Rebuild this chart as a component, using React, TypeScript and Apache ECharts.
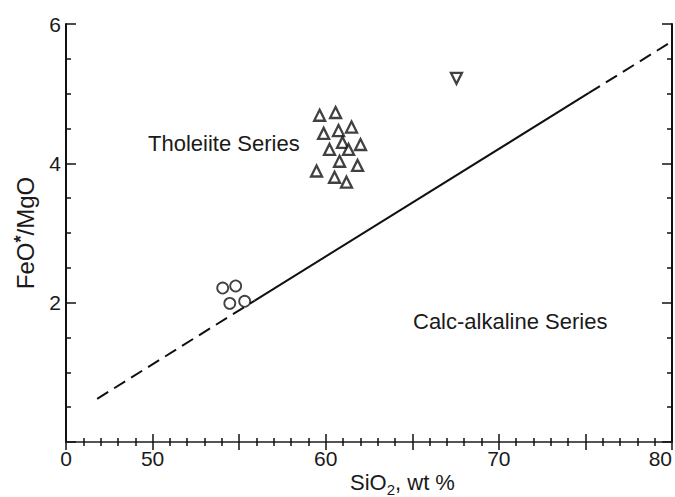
import React, { useEffect, useRef } from "react";
import * as echarts from "echarts";

const tholeiitePoints: [number, number][] = [
  [59.65, 4.69], [60.57, 4.73], [59.88, 4.43], [60.74, 4.47], [61.49, 4.52],
  [60.22, 4.2], [60.97, 4.3], [61.32, 4.2], [62.01, 4.27], [60.8, 4.03],
  [61.84, 3.97], [59.47, 3.89], [60.51, 3.8], [61.2, 3.73],
];
const invertedPoints: [number, number][] = [[67.55, 5.22]];
const circlePoints: [number, number][] = [
  [54.05, 2.21], [54.8, 2.24], [54.46, 1.99], [55.32, 2.02],
];
const dashedLow: [number, number][] = [[46.8, 0.62], [55.9, 2.03]];
const solidMid: [number, number][] = [[55.9, 2.03], [75.2, 5.01]];
const dashedHigh: [number, number][] = [[75.2, 5.01], [79.8, 5.72]];

const xTickLabels: Record<number, string> = { 45: "0", 50: "50", 60: "60", 70: "70", 80: "80" };
const yTickLabels: Record<number, string> = { 2: "2", 4: "4", 6: "6" };

const FONT = "'Liberation Sans', Arial, sans-serif";
const INK = "#111";

export default function App() {
  const ref = useRef<HTMLDivElement>(null);
  useEffect(() => {
    if (!ref.current) return;
    const chart = echarts.init(ref.current, undefined, { renderer: "svg" });
    const tickStyle = { color: INK, width: 1.5 };
    const xBase = {
      type: "value" as const,
      min: 45,
      max: 80,
      interval: 5,
      splitLine: { show: false },
      axisTick: { show: true, inside: true, length: 8, lineStyle: tickStyle },
      minorTick: { show: true, splitNumber: 5, length: 4, lineStyle: tickStyle },
    };
    const yBase = {
      type: "value" as const,
      min: 0,
      max: 6,
      interval: 2,
      splitLine: { show: false },
      axisTick: { show: true, inside: true, length: 10, lineStyle: tickStyle },
      minorTick: { show: true, splitNumber: 4, length: 5, lineStyle: tickStyle },
    };
    const lineSeries = (data: [number, number][], dashed: boolean) => ({
      type: "line" as const,
      data,
      showSymbol: false,
      symbol: "none",
      silent: true,
      lineStyle: { color: INK, width: 2, type: dashed ? [13, 7] : "solid" },
      z: 1,
    });
    chart.setOption({
      animation: false,
      backgroundColor: "#fff",
      grid: { left: 66, right: 2, top: 24, bottom: 55, containLabel: false },
      xAxis: [
        {
          ...xBase,
          position: "bottom",
          axisLine: { show: true, lineStyle: { color: INK, width: 2 } },
          axisLabel: {
            show: true,
            margin: 6,
            fontFamily: FONT,
            fontSize: 21,
            color: "#1a1a1a",
            showMinLabel: true,
            showMaxLabel: true,
            alignMaxLabel: "right",
            formatter: (v: number) => xTickLabels[v] ?? "",
          },
        },
        {
          ...xBase,
          position: "top",
          axisLine: { show: true, lineStyle: { color: "#555", width: 2 } },
          axisLabel: { show: false },
        },
      ],
      yAxis: [
        {
          ...yBase,
          position: "left",
          axisLine: { show: true, lineStyle: { color: INK, width: 2 } },
          axisLabel: {
            show: true,
            margin: 5,
            fontFamily: FONT,
            fontSize: 21,
            color: "#1a1a1a",
            formatter: (v: number) => yTickLabels[v] ?? "",
          },
          name: "FeO{s|*}/MgO",
          nameLocation: "middle",
          nameGap: 28,
          nameRotate: 90,
          nameTextStyle: {
            fontFamily: FONT,
            fontSize: 24,
            color: "#1a1a1a",
            rich: {
              s: { fontFamily: FONT, fontSize: 18, fontWeight: "bold", color: "#1a1a1a", padding: [0, 0, 8, 0] },
            },
          },
        },
        {
          ...yBase,
          position: "right",
          axisLine: { show: true, lineStyle: { color: INK, width: 2 } },
          axisLabel: { show: false },
        },
      ],
      graphic: [
        {
          type: "text",
          left: 148,
          top: 132,
          style: { text: "Tholeiite Series", font: `22px ${FONT}`, fill: "#1a1a1a" },
        },
        {
          type: "text",
          left: 413,
          top: 310,
          style: { text: "Calc-alkaline Series", font: `22px ${FONT}`, fill: "#1a1a1a" },
        },
        {
          type: "text",
          left: 350,
          top: 471,
          style: {
            text: "{a|SiO}{b|2}{a|, wt %}",
            rich: {
              a: { fontFamily: FONT, fontSize: 22, fill: "#1a1a1a", lineHeight: 25, verticalAlign: "bottom" },
              b: { fontFamily: FONT, fontSize: 15, fill: "#1a1a1a", lineHeight: 15, verticalAlign: "bottom", padding: [0, 0, -4, 0] },
            },
          },
        },
      ],
      series: [
        lineSeries(dashedLow, true),
        lineSeries(solidMid, false),
        lineSeries(dashedHigh, true),
        {
          type: "scatter",
          data: tholeiitePoints,
          symbol: "triangle",
          symbolSize: 11,
          itemStyle: { color: "#fff", borderColor: INK, borderWidth: 2.3 },
          z: 3,
        },
        {
          type: "scatter",
          data: invertedPoints,
          symbol: "triangle",
          symbolRotate: 180,
          symbolSize: 11,
          itemStyle: { color: "#fff", borderColor: INK, borderWidth: 2.3 },
          z: 3,
        },
        {
          type: "scatter",
          data: circlePoints,
          symbol: "circle",
          symbolSize: 11,
          itemStyle: { color: "#fff", borderColor: INK, borderWidth: 1.8 },
          z: 3,
        },
      ],
    });
    return () => chart.dispose();
  }, []);
  return (
    <div
      ref={ref}
      style={{ position: "absolute", left: 0, top: 0, width: 675, height: 497, background: "#fff" }}
    />
  );
}
